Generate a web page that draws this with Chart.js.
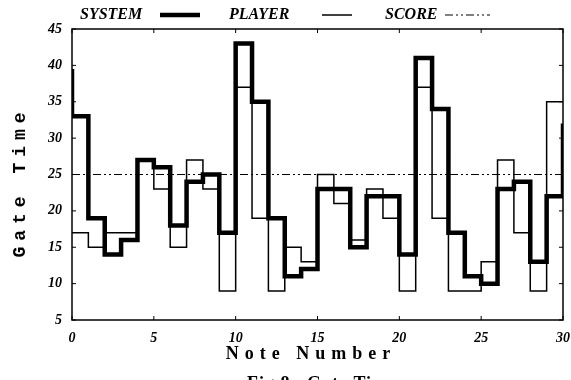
<!DOCTYPE html>
<html>
<head>
<meta charset="utf-8">
<script src="https://cdn.jsdelivr.net/npm/chart.js@4.4.1/dist/chart.umd.min.js"></script>
<style>
  html, body { margin: 0; padding: 0; background: #fff; }
  #wrap { width: 571px; height: 380px; }
</style>
</head>
<body>
<div id="wrap"><canvas id="gateChart" width="571" height="380"></canvas></div>
<script>
// gate time per note
const systemLead = 39.5; // where the system line comes in at note 0
const systemGate = [33, 19, 14, 16, 27, 26, 18, 24, 25, 17, 43, 35, 19, 11, 12, 23, 23, 15, 22, 22, 14, 41, 34, 17, 11, 10, 23, 24, 13, 22, 32];
const playerGate = [17, 15, 17, 17, 27, 23, 15, 27, 23, 9, 37, 19, 9, 15, 13, 25, 21, 16, 23, 19, 9, 37, 19, 9, 9, 13, 27, 17, 9, 35];
const scoreNotes = [0, 30];
const scoreGate = [25, 25];
const xTicks = [0, 5, 10, 15, 20, 25, 30];
const yTicks = [5, 10, 15, 20, 25, 30, 35, 40, 45];

const systemPoints = [{ x: 0, y: systemLead }].concat(systemGate.map((v, i) => ({ x: i, y: v })));
const playerPoints = playerGate.map((v, i) => ({ x: i, y: v }));
playerPoints.push({ x: playerGate.length, y: playerGate[playerGate.length - 1] });
const scorePoints = scoreNotes.map((n, i) => ({ x: n, y: scoreGate[i] }));

// frame, inward ticks, legend and titles
const decorations = {
    id: 'decorations',
    afterDraw(chart) {
        const { ctx, chartArea: a, scales } = chart;
        ctx.save();
        ctx.strokeStyle = '#000';
        ctx.lineWidth = 1.5;
        ctx.strokeRect(a.left, a.top, a.right - a.left, a.bottom - a.top);

        ctx.lineWidth = 1;
        ctx.beginPath();
        xTicks.forEach(v => {
            const px = scales.x.getPixelForValue(v);
            ctx.moveTo(px, a.bottom); ctx.lineTo(px, a.bottom - 4);
            ctx.moveTo(px, a.top); ctx.lineTo(px, a.top + 4);
        });
        yTicks.forEach(v => {
            const py = scales.y.getPixelForValue(v);
            ctx.moveTo(a.left, py); ctx.lineTo(a.left + 4, py);
            ctx.moveTo(a.right, py); ctx.lineTo(a.right - 4, py);
        });
        ctx.stroke();

        // legend: label then line sample
        ctx.fillStyle = '#000';
        ctx.textBaseline = 'middle';
        ctx.textAlign = 'left';
        ctx.font = 'bold italic 16px "Liberation Serif"';
        const legendY = 15;
        const items = [
            { text: 'SYSTEM', tx: 80, lx: 160, lw: 40 },
            { text: 'PLAYER', tx: 229, lx: 322, lw: 30 },
            { text: 'SCORE', tx: 385, lx: 445, lw: 45 }
        ];
        items.forEach((it, i) => {
            const ds = chart.data.datasets[i];
            ctx.fillText(it.text, it.tx, legendY);
            ctx.beginPath();
            ctx.lineWidth = ds.borderWidth;
            ctx.setLineDash(ds.borderDash || []);
            ctx.moveTo(it.lx, legendY);
            ctx.lineTo(it.lx + it.lw, legendY);
            ctx.stroke();
        });
        ctx.setLineDash([]);

        // axis titles
        ctx.textAlign = 'center';
        ctx.font = 'bold 18px "Liberation Serif"';
        ctx.letterSpacing = '6px';
        ctx.fillText('Note Number', 311, 354);

        ctx.save();
        ctx.translate(20, 182);
        ctx.rotate(-Math.PI / 2);
        ctx.font = 'bold 18px "Liberation Mono"';
        ctx.letterSpacing = '6px';
        ctx.fillText('Gate Time', 0, 0);
        ctx.restore();

        // figure caption, cut by the bottom edge
        ctx.letterSpacing = '1px';
        ctx.textBaseline = 'alphabetic';
        ctx.font = 'bold 18px "Liberation Serif"';
        ctx.fillText('Fig.8   Gate Time', 322, 389);
        ctx.restore();
    }
};

new Chart(document.getElementById('gateChart'), {
    type: 'line',
    data: {
        datasets: [
            {
                label: 'SYSTEM',
                data: systemPoints,
                borderColor: '#000',
                borderWidth: 4.5,
                stepped: 'before',
                pointRadius: 0,
                fill: false
            },
            {
                label: 'PLAYER',
                data: playerPoints,
                borderColor: '#000',
                borderWidth: 1.5,
                stepped: 'before',
                pointRadius: 0,
                fill: false
            },
            {
                label: 'SCORE',
                data: scorePoints,
                borderColor: '#000',
                borderWidth: 1,
                borderDash: [8, 3, 2, 3, 2, 3],
                pointRadius: 0,
                fill: false
            }
        ]
    },
    options: {
        responsive: false,
        animation: false,
        devicePixelRatio: 1,
        layout: { padding: { top: 29, right: 8, left: 0, bottom: 0 } },
        plugins: {
            legend: { display: false },
            tooltip: { enabled: false }
        },
        scales: {
            x: {
                type: 'linear',
                min: 0,
                max: 30,
                afterBuildTicks: s => { s.ticks = xTicks.map(v => ({ value: v })); },
                afterFit: s => { s.height = 60; s.paddingLeft = 0; s.paddingRight = 0; },
                grid: { display: false, drawTicks: false },
                border: { display: false },
                ticks: { color: '#000', font: { family: 'Liberation Serif', size: 14, style: 'italic', weight: 'bold' }, padding: 10, maxRotation: 0 }
            },
            y: {
                min: 5,
                max: 45,
                afterBuildTicks: s => { s.ticks = yTicks.map(v => ({ value: v })); },
                afterFit: s => { s.width = 72; s.paddingTop = 0; s.paddingBottom = 0; },
                grid: { display: false, drawTicks: false },
                border: { display: false },
                ticks: { color: '#000', font: { family: 'Liberation Serif', size: 14, style: 'italic', weight: 'bold' }, padding: 10 }
            }
        }
    },
    plugins: [decorations]
});
</script>
</body>
</html>
